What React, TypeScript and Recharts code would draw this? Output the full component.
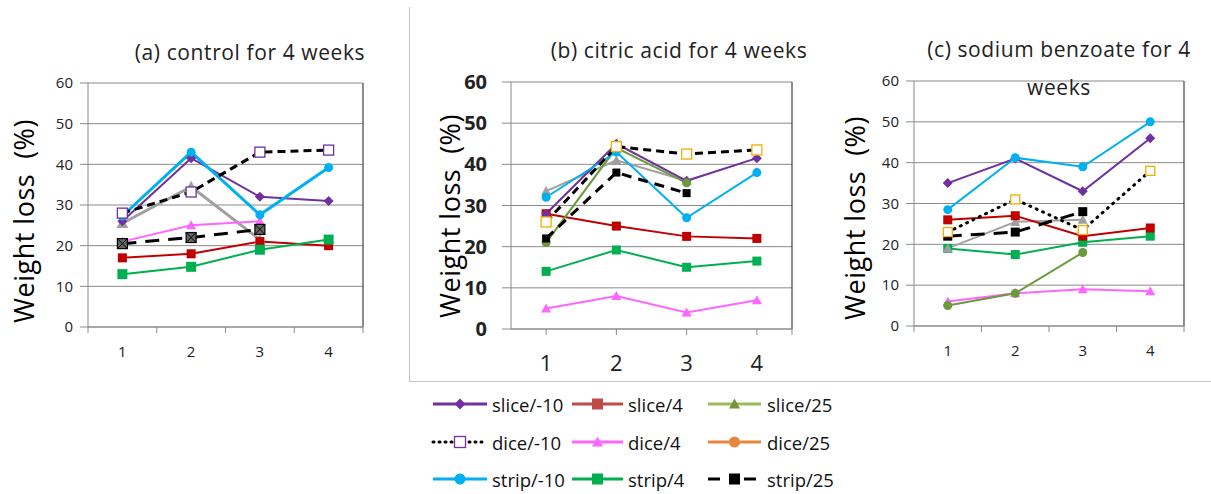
import { LineChart, Line, XAxis, YAxis, CartesianGrid, ReferenceLine } from 'recharts';

const weeks = [1, 2, 3, 4];
const yTicks = [0, 10, 20, 30, 40, 50, 60];

// (a) control
const aSliceM10 = [26, 41.5, 32, 31];
const aSlice4 = [17, 18, 21, 20];
const aSlice25 = [25.5, 34.5, 21.5, null];
const aDiceM10 = [28, 33.2, 43, 43.5];
const aDice4 = [21, 25, 26, null];
const aStripM10 = [27.3, 43, 27.6, 39.2];
const aStrip4 = [13, 14.8, 19, 21.5];
const aStrip25 = [20.5, 22, 24, null];

// (b) citric acid
const bSliceM10 = [28, 45, 36, 41.5];
const bSlice4 = [28, 25, 22.5, 22];
const bSlice25 = [33.5, 41, 36, null];
const bDice25 = [21, 44, 35.5, null];
const bDiceM10 = [26, 44.3, 42.5, 43.5];
const bDice4 = [5, 8, 4, 7];
const bStripM10 = [32, 43, 27, 38];
const bStrip4 = [14, 19.2, 15, 16.5];
const bStrip25 = [22, 38, 33, null];

// (c) sodium benzoate
const cSliceM10 = [35, 41, 33, 46];
const cSlice4 = [26, 27, 22, 24];
const cSlice25 = [19, 25.5, 26, null];
const cDiceM10 = [23, 31, 23.5, 38];
const cDice4 = [6, 8, 9, 8.5];
const cDice25 = [5, 8, 18, null];
const cStripM10 = [28.5, 41.2, 39, 50];
const cStrip4 = [19, 17.5, 20.5, 22];
const cStrip25 = [22, 23, 28, null];

const FONT = "'Open Sans', 'Noto Sans', sans-serif";
const AXIS_GREY = '#8a8a8a';

type Shape = 'diamond' | 'square' | 'triangle' | 'circle' | 'openSquare' | 'xSquare';

interface Series {
  name: string;
  values: (number | null)[];
  color: string;
  width: number;
  dash?: string;
  cap?: 'round' | 'butt';
  shape: Shape;
  size: number;
  fill: string;
  stroke?: string;
}

function marker(shape: Shape, cx: number, cy: number, size: number, fill: string, stroke: string | undefined, key: string) {
  const h = size / 2;
  switch (shape) {
    case 'diamond':
      return <polygon key={key} points={`${cx},${cy - h} ${cx + h},${cy} ${cx},${cy + h} ${cx - h},${cy}`} fill={fill} />;
    case 'square':
      return <rect key={key} x={cx - h} y={cy - h} width={size} height={size} fill={fill} stroke={stroke ?? 'none'} />;
    case 'triangle':
      return <polygon key={key} points={`${cx},${cy - h} ${cx + h},${cy + h * 0.8} ${cx - h},${cy + h * 0.8}`} fill={fill} />;
    case 'circle':
      return <circle key={key} cx={cx} cy={cy} r={h} fill={fill} />;
    case 'openSquare':
      return <rect key={key} x={cx - h} y={cy - h} width={size} height={size} fill="#fff" stroke={stroke ?? fill} strokeWidth={1.3} />;
    case 'xSquare':
      return (
        <g key={key}>
          <rect x={cx - h} y={cy - h} width={size} height={size} fill={fill} stroke="#000" strokeWidth={1.2} />
          <line x1={cx - h} y1={cy - h} x2={cx + h} y2={cy + h} stroke="#000" strokeWidth={1} />
          <line x1={cx + h} y1={cy - h} x2={cx - h} y2={cy + h} stroke="#000" strokeWidth={1} />
        </g>
      );
  }
}

const panelA: Series[] = [
  { name: 'slice/25', values: aSlice25, color: '#a0a0a0', width: 3, shape: 'triangle', size: 12, fill: '#a0a0a0' },
  { name: 'slice/4', values: aSlice4, color: '#c00000', width: 2, shape: 'square', size: 9, fill: '#c00000' },
  { name: 'strip/4', values: aStrip4, color: '#00b050', width: 2, shape: 'square', size: 10, fill: '#00b050' },
  { name: 'dice/4', values: aDice4, color: '#ff66ff', width: 2, shape: 'triangle', size: 10, fill: '#ff66ff' },
  { name: 'slice/-10', values: aSliceM10, color: '#7030a0', width: 2, shape: 'diamond', size: 10, fill: '#7030a0' },
  { name: 'strip/-10', values: aStripM10, color: '#00b0f0', width: 3, shape: 'circle', size: 9, fill: '#00b0f0' },
  { name: 'dice/-10', values: aDiceM10, color: '#000', width: 3, dash: '8 5', shape: 'openSquare', size: 10, fill: '#fff', stroke: '#7030a0' },
  { name: 'strip/25', values: aStrip25, color: '#000', width: 3, dash: '14 9', shape: 'xSquare', size: 10, fill: '#666' },
];

const panelB: Series[] = [
  { name: 'dice/4', values: bDice4, color: '#ff66ff', width: 2, shape: 'triangle', size: 10, fill: '#ff66ff' },
  { name: 'strip/4', values: bStrip4, color: '#00b050', width: 2, shape: 'square', size: 9, fill: '#00b050' },
  { name: 'slice/4', values: bSlice4, color: '#c00000', width: 2, shape: 'square', size: 9, fill: '#c00000' },
  { name: 'slice/25', values: bSlice25, color: '#a0a0a0', width: 2, shape: 'triangle', size: 10, fill: '#a0a0a0' },
  { name: 'slice/-10', values: bSliceM10, color: '#7030a0', width: 2, shape: 'diamond', size: 10, fill: '#7030a0' },
  { name: 'dice/25', values: bDice25, color: '#6a9a3a', width: 2, shape: 'circle', size: 9, fill: '#6a9a3a' },
  { name: 'strip/-10', values: bStripM10, color: '#00b0f0', width: 2, shape: 'circle', size: 9, fill: '#00b0f0' },
  { name: 'strip/25', values: bStrip25, color: '#000', width: 3, dash: '10 7', shape: 'square', size: 8, fill: '#000' },
  { name: 'dice/-10', values: bDiceM10, color: '#000', width: 3, dash: '8 5', shape: 'openSquare', size: 10, fill: '#fff', stroke: '#f0b000' },
];

const panelC: Series[] = [
  { name: 'dice/4', values: cDice4, color: '#ff66ff', width: 2, shape: 'triangle', size: 10, fill: '#ff66ff' },
  { name: 'dice/25', values: cDice25, color: '#6a9a3a', width: 2, shape: 'circle', size: 9, fill: '#6a9a3a' },
  { name: 'strip/4', values: cStrip4, color: '#00b050', width: 2, shape: 'square', size: 9, fill: '#00b050' },
  { name: 'slice/25', values: cSlice25, color: '#a0a0a0', width: 2, shape: 'triangle', size: 10, fill: '#a0a0a0' },
  { name: 'slice/4', values: cSlice4, color: '#c00000', width: 2, shape: 'square', size: 9, fill: '#c00000' },
  { name: 'strip/25', values: cStrip25, color: '#000', width: 3, dash: '14 9', shape: 'square', size: 9, fill: '#000' },
  { name: 'dice/-10', values: cDiceM10, color: '#000', width: 3, dash: '1 6', cap: 'round', shape: 'openSquare', size: 9, fill: '#fff', stroke: '#f0b000' },
  { name: 'slice/-10', values: cSliceM10, color: '#7030a0', width: 2, shape: 'diamond', size: 10, fill: '#7030a0' },
  { name: 'strip/-10', values: cStripM10, color: '#00b0f0', width: 2, shape: 'circle', size: 9, fill: '#00b0f0' },
];

function buildRows(series: Series[]) {
  return weeks.map((w, i) => {
    const row: Record<string, number | null> = { week: w };
    series.forEach((s) => {
      row[s.name] = s.values[i];
    });
    return row;
  });
}

interface PanelProps {
  series: Series[];
  left: number;
  top: number;
  width: number;
  height: number;
  margin: { top: number; right: number; bottom: number; left: number };
  xTicks: number[];
  xMarks: number[];
  xFont: number;
  xLabelDy: number;
  yFont: number;
  yBold?: boolean;
  yTickSize: number;
  yTickMargin: number;
  xAxisHeight: number;
}

function Panel(p: PanelProps) {
  const rows = buildRows(p.series);
  const renderXTick = (props: any) => {
    const { x, y, payload } = props;
    const v = payload.value as number;
    return (
      <g>
        {p.xMarks.includes(v) && <line x1={x} x2={x} y1={y} y2={y + 6} stroke={AXIS_GREY} />}
        {Number.isInteger(v) && (
          <text x={x} y={y + p.xLabelDy} textAnchor="middle" fontSize={p.xFont} fontFamily={FONT} fill="#222">
            {v}
          </text>
        )}
      </g>
    );
  };
  return (
    <div style={{ position: 'absolute', left: p.left, top: p.top }}>
      <LineChart width={p.width} height={p.height} data={rows} margin={p.margin}>
        <CartesianGrid vertical={false} stroke={AXIS_GREY} />
        <XAxis
          dataKey="week"
          type="number"
          domain={[0.5, 4.5]}
          ticks={p.xTicks}
          interval={0}
          tickSize={0}
          tickMargin={0}
          tickLine={false}
          tick={renderXTick}
          stroke={AXIS_GREY}
          height={p.xAxisHeight}
        />
        <YAxis
          domain={[0, 60]}
          ticks={yTicks}
          width={50}
          tickSize={p.yTickSize}
          tickMargin={p.yTickMargin}
          stroke={AXIS_GREY}
          tick={{ fontSize: p.yFont, fontFamily: FONT, fill: '#222', fontWeight: p.yBold ? 700 : 400 }}
        />
        <ReferenceLine x={4.5} stroke="#404040" strokeWidth={1.2} />
        {p.series.map((s) => (
          <Line
            key={s.name}
            dataKey={s.name}
            stroke={s.color}
            strokeWidth={s.width}
            strokeDasharray={s.dash}
            strokeLinecap={s.cap ?? 'butt'}
            isAnimationActive={false}
            dot={(d: any) =>
              d.cy == null ? <g key={`${s.name}-${d.index}`} /> : marker(s.shape, d.cx, d.cy, s.size, s.fill, s.stroke, `${s.name}-${d.index}`)
            }
            activeDot={false}
          />
        ))}
      </LineChart>
    </div>
  );
}

interface LegendItem {
  name: string;
  color: string;
  dash?: string;
  cap?: 'round' | 'butt';
  shape: Shape;
  fill: string;
  stroke?: string;
}

const legendItems: LegendItem[] = [
  { name: 'slice/-10', color: '#7030a0', shape: 'diamond', fill: '#7030a0' },
  { name: 'slice/4', color: '#be4b48', shape: 'square', fill: '#be4b48' },
  { name: 'slice/25', color: '#9bbb59', shape: 'triangle', fill: '#77933c' },
  { name: 'dice/-10', color: '#000', dash: '1 5', cap: 'round', shape: 'openSquare', fill: '#fff', stroke: '#7030a0' },
  { name: 'dice/4', color: '#ff66ff', shape: 'triangle', fill: '#ff66ff' },
  { name: 'dice/25', color: '#e6883c', shape: 'circle', fill: '#e6883c' },
  { name: 'strip/-10', color: '#00b0f0', shape: 'circle', fill: '#00b0f0' },
  { name: 'strip/4', color: '#00b050', shape: 'square', fill: '#00b050' },
  { name: 'strip/25', color: '#000', dash: '12 10 4 10', shape: 'square', fill: '#000' },
];

const legendCols = [
  { x1: 433, x2: 487, text: 492 },
  { x1: 572, x2: 623, text: 628 },
  { x1: 708, x2: 761, text: 767 },
];
const legendRows = [404, 442, 479];

function ChartLegend() {
  return (
    <svg width={1211} height={494} style={{ position: 'absolute', left: 0, top: 0, pointerEvents: 'none' }}>
      <line x1={409.5} y1={7} x2={409.5} y2={381.5} stroke="#c4c4c4" />
      <line x1={409} y1={381.5} x2={1211} y2={381.5} stroke="#c4c4c4" />
      {legendItems.map((it, i) => {
        const col = legendCols[i % 3];
        const y = legendRows[Math.floor(i / 3)];
        const cx = (col.x1 + col.x2) / 2;
        return (
          <g key={it.name}>
            <line x1={col.x1} x2={col.x2} y1={y} y2={y} stroke={it.color} strokeWidth={3} strokeDasharray={it.dash} strokeLinecap={it.cap ?? 'butt'} />
            {marker(it.shape, cx, y, 11, it.fill, it.stroke, `m-${it.name}`)}
            <text x={col.text} y={y} dominantBaseline="central" fontSize={18.5} fontFamily={FONT} fill="#111">
              {it.name}
            </text>
          </g>
        );
      })}
    </svg>
  );
}

const textBase: React.CSSProperties = {
  position: 'absolute',
  transform: 'translate(-50%, -50%)',
  whiteSpace: 'pre',
  fontFamily: FONT,
  color: '#222',
  lineHeight: 1,
};

function Caption({ x, y, text }: { x: number; y: number; text: string }) {
  return <div style={{ ...textBase, left: x, top: y, fontSize: 21, letterSpacing: 0.6 }}>{text}</div>;
}

function YLabel({ x, y }: { x: number; y: number }) {
  return (
    <div
      style={{
        ...textBase,
        left: x,
        top: y,
        fontSize: 27,
        letterSpacing: 0.5,
        color: '#000',
        transform: 'translate(-50%, -50%) rotate(-90deg)',
      }}
    >
      {'Weight loss  (%)'}
    </div>
  );
}

export default function App() {
  return (
    <div style={{ position: 'absolute', left: 0, top: 0, width: 1211, height: 494, background: '#fff', overflow: 'hidden' }}>
      <Panel
        series={panelA}
        left={0}
        top={0}
        width={400}
        height={380}
        margin={{ top: 83, right: 37, bottom: 23, left: 38 }}
        xTicks={[0.5, 1, 1.5, 2, 2.5, 3, 3.5, 4, 4.5]}
        xMarks={[0.5, 1.5, 2.5, 3.5, 4.5]}
        xFont={15}
        xLabelDy={30}
        yFont={15}
        yTickSize={8}
        yTickMargin={7}
        xAxisHeight={30}
      />
      <Panel
        series={panelB}
        left={420}
        top={0}
        width={390}
        height={380}
        margin={{ top: 82, right: 18, bottom: 11, left: 41 }}
        xTicks={[1, 2, 3, 4, 4.5]}
        xMarks={[1, 2, 3, 4, 4.5]}
        xFont={22}
        xLabelDy={42}
        yFont={20}
        yBold
        yTickSize={9}
        yTickMargin={15}
        xAxisHeight={40}
      />
      <Panel
        series={panelC}
        left={820}
        top={0}
        width={391}
        height={370}
        margin={{ top: 81, right: 27, bottom: 14, left: 44 }}
        xTicks={[0.5, 1, 1.5, 2, 2.5, 3, 3.5, 4, 4.5]}
        xMarks={[0.5, 1.5, 2.5, 3.5, 4.5]}
        xFont={15}
        xLabelDy={30}
        yFont={15}
        yTickSize={8}
        yTickMargin={7}
        xAxisHeight={30}
      />
      <ChartLegend />
      <Caption x={250} y={52} text="(a) control for 4 weeks" />
      <Caption x={679} y={50} text="(b) citric acid for 4 weeks" />
      <Caption x={1059} y={49} text="(c) sodium benzoate for 4" />
      <Caption x={1059} y={87} text="weeks" />
      <YLabel x={23} y={221} />
      <YLabel x={449} y={216} />
      <YLabel x={854} y={218} />
    </div>
  );
}
